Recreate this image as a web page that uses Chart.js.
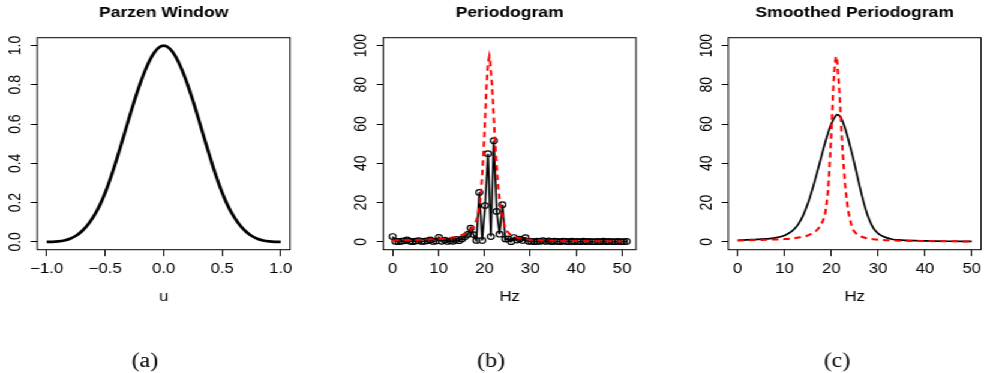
<!DOCTYPE html>
<html>
<head>
<meta charset="utf-8">
<script src="https://cdn.jsdelivr.net/npm/chart.js@4/dist/chart.umd.min.js"></script>
<style>
  html, body { margin: 0; padding: 0; background: #fff; overflow: hidden; }
  /* the reference figure is a little wider than tall, text included */
  #wrap { position: relative; width: 820px; height: 373px; transform: scaleX(1.2); transform-origin: 0 0; }
  #wrap canvas { position: absolute; left: 0; top: 0; }
</style>
</head>
<body>
<div id="wrap">
  <canvas id="parzen" width="820" height="373"></canvas>
  <canvas id="pgram" width="820" height="373"></canvas>
  <canvas id="smooth" width="820" height="373"></canvas>
</div>
<script>
// (a) Parzen window
const uValues = [-1.00, -0.95, -0.90, -0.85, -0.80, -0.75, -0.70, -0.65, -0.60, -0.55, -0.50,
  -0.45, -0.40, -0.35, -0.30, -0.25, -0.20, -0.15, -0.10, -0.05, 0.00,
  0.05, 0.10, 0.15, 0.20, 0.25, 0.30, 0.35, 0.40, 0.45, 0.50,
  0.55, 0.60, 0.65, 0.70, 0.75, 0.80, 0.85, 0.90, 0.95, 1.00];
const parzenWeights = [0.000, 0.000, 0.002, 0.007, 0.016, 0.031, 0.054, 0.086, 0.128, 0.182, 0.250,
  0.332, 0.424, 0.522, 0.622, 0.719, 0.808, 0.885, 0.946, 0.986, 1.000,
  0.986, 0.946, 0.885, 0.808, 0.719, 0.622, 0.522, 0.424, 0.332, 0.250,
  0.182, 0.128, 0.086, 0.054, 0.031, 0.016, 0.007, 0.002, 0.000, 0.000];
const uTicks = [-1, -0.5, 0, 0.5, 1];
const uTickLabels = ['\u22121.0', '\u22120.5', '0.0', '0.5', '1.0'];
const weightTicks = [0, 0.2, 0.4, 0.6, 0.8, 1];
const weightTickLabels = ['0.0', '0.2', '0.4', '0.6', '0.8', '1.0'];

// (b) raw periodogram
const pgramHz = [0.00, 0.63, 1.26, 1.89, 2.52, 3.15, 3.78, 4.41, 5.04, 5.67,
  6.30, 6.93, 7.56, 8.19, 8.81, 9.44, 10.07, 10.70, 11.33, 11.96,
  12.59, 13.22, 13.85, 14.48, 15.11, 15.74, 16.37, 17.00, 17.63, 18.26,
  18.89, 19.52, 20.15, 20.78, 21.41, 22.04, 22.67, 23.30, 23.93, 24.56,
  25.19, 25.81, 26.44, 27.07, 27.70, 28.33, 28.96, 29.59, 30.22, 30.85,
  31.48, 32.11, 32.74, 33.37, 34.00, 34.63, 35.26, 35.89, 36.52, 37.15,
  37.78, 38.41, 39.04, 39.67, 40.30, 40.93, 41.56, 42.19, 42.81, 43.44,
  44.07, 44.70, 45.33, 45.96, 46.59, 47.22, 47.85, 48.48, 49.11, 49.74,
  50.37, 51.00];
const pgramPower = [2.7, 0.2, 0.1, 0.3, 0.5, 1.0, 0.3, 0.1, 0.4, 0.6,
  0.2, 0.3, 0.5, 1.0, 0.2, 0.4, 2.3, 0.3, 0.9, 0.2,
  0.5, 0.3, 1.2, 0.6, 1.5, 2.6, 3.8, 7.0, 3.7, 0.7,
  25.2, 0.7, 18.5, 44.9, 2.7, 51.5, 15.5, 3.9, 18.9, 1.4,
  1.5, 0.1, 2.2, 0.9, 1.4, 0.7, 2.1, 0.3, 0.2, 0.1,
  0.3, 0.2, 0.6, 0.2, 0.5, 0.1, 0.3, 0.2, 0.1, 0.4,
  0.2, 0.1, 0.3, 0.1, 0.2, 0.1, 0.3, 0.1, 0.2, 0.1,
  0.1, 0.2, 0.1, 0.3, 0.1, 0.2, 0.1, 0.1, 0.2, 0.1,
  0.1, 0.2];

// true spectrum, red dashed in (b) and (c)
const trueHz = [0, 4, 8, 10, 12, 13, 14, 14.7, 15.5, 16.3,
  17, 17.5, 18, 18.3, 18.7, 19, 19.3, 19.6, 19.9, 20.2,
  20.45, 20.7, 20.9, 21.07, 21.25, 21.45, 21.65, 21.85, 22.05, 22.3,
  22.5, 22.7, 22.9, 23.1, 23.35, 23.6, 24.1, 24.7, 25.5, 26.5,
  27.6, 29, 31, 33.2, 36, 40, 45, 50];
const truePower = [0.7, 0.9, 1.2, 1.4, 1.8, 2.2, 2.6, 3.0, 3.8, 4.8,
  6.1, 7.6, 9.6, 11.2, 14.5, 19.5, 26, 37, 50, 65,
  79, 88, 92.5, 94.5, 92, 86, 80, 72, 63, 52,
  44, 37, 31, 26, 21, 16.5, 10.5, 6.1, 3.9, 2.6,
  1.8, 1.3, 0.9, 0.7, 0.5, 0.4, 0.3, 0.2];

// (c) smoothed periodogram
const smoothHz = [0, 3, 6, 8, 10, 11, 12, 13, 14, 15, 16, 17, 18, 19, 20, 21, 21.3,
  22, 23, 24, 25, 26, 27, 28, 29, 30, 31, 33, 35, 40, 45, 50];
const smoothPower = [0.8, 1.1, 1.5, 2.0, 3.2, 4.5, 6.3, 9.2, 13.5, 19.5, 27, 35.5, 44.5, 53, 60, 64.3, 64.8,
  63.5, 57.5, 49, 39.5, 29, 19.5, 12, 7, 4.3, 2.8, 1.3, 0.9, 0.5, 0.3, 0.2];

const hzTicks = [0, 10, 20, 30, 40, 50];
const hzTickLabels = ['0', '10', '20', '30', '40', '50'];
const powerTicks = [0, 20, 40, 60, 80, 100];
const powerTickLabels = ['0', '20', '40', '60', '80', '100'];

Chart.defaults.font.family = "'Liberation Sans', Arial, sans-serif";
Chart.defaults.font.size = 14;
Chart.defaults.color = '#000';

const toPoints = (xs, ys) => xs.map((x, i) => ({ x, y: ys[i] }));

// box around the plot, bold title, figure caption underneath
const framePlugin = {
  id: 'frame',
  afterDraw(chart, args, opts) {
    const { ctx, chartArea: a } = chart;
    ctx.save();
    ctx.strokeStyle = '#000';
    ctx.lineWidth = 1;
    ctx.strokeRect(a.left, a.top, a.right - a.left, a.bottom - a.top);
    ctx.fillStyle = '#000';
    ctx.textAlign = 'center';
    ctx.textBaseline = 'alphabetic';
    ctx.font = "bold 14.6px 'Liberation Sans', Arial, sans-serif";
    ctx.fillText(opts.title, (a.left + a.right) / 2, 16.7);
    ctx.font = "20px 'Liberation Serif', 'Times New Roman', serif";
    ctx.fillText(opts.caption, opts.captionX, 366.5);
    ctx.restore();
  },
};

function xScale(min, max, ticks, labels, title) {
  return {
    type: 'linear',
    min,
    max,
    afterBuildTicks: s => { s.ticks = ticks.map(value => ({ value })); },
    afterFit: s => { s.height = 56; s.paddingLeft = 0; s.paddingRight = 0; },
    grid: { drawOnChartArea: false, tickLength: 6.5, color: '#000', lineWidth: 1 },
    border: { display: false },
    ticks: { autoSkip: false, minRotation: 0, maxRotation: 0, padding: 4.1, callback: (v, i) => labels[i] },
    title: { display: true, text: title, padding: { top: 0, bottom: 0.45 } },
  };
}

function yScale(min, max, ticks, labels, pad) {
  return {
    type: 'linear',
    min,
    max,
    afterBuildTicks: s => { s.ticks = ticks.map(value => ({ value })); },
    afterFit: s => { s.width = 25; s.paddingTop = 0; s.paddingBottom = 0; },
    grid: { drawOnChartArea: false, tickLength: 5.5, color: '#000', lineWidth: 1 },
    border: { display: false },
    ticks: { autoSkip: false, minRotation: 90, maxRotation: 90, crossAlign: 'center', padding: pad, callback: (v, i) => labels[i] },
  };
}

function options(left, right, x, y, frame) {
  return {
    responsive: false,
    animation: false,
    devicePixelRatio: 1,
    events: [],
    layout: { padding: { left, right, top: 37.7, bottom: 67.3 } },
    scales: { x, y },
    plugins: { legend: { display: false }, tooltip: { enabled: false }, frame },
  };
}

new Chart(document.getElementById('parzen'), {
  type: 'line',
  data: {
    datasets: [{
      data: toPoints(uValues, parzenWeights),
      borderColor: '#000',
      borderWidth: 2.7,
      pointRadius: 0,
      cubicInterpolationMode: 'monotone',
    }],
  },
  options: options(6.1, 578.3,
    xScale(-1.08, 1.08, uTicks, uTickLabels, 'u'),
    yScale(-0.04, 1.04, weightTicks, weightTickLabels, 2.6),
    { title: 'Parzen Window', caption: '(a)', captionX: 120.8 }),
  plugins: [framePlugin],
});

new Chart(document.getElementById('pgram'), {
  type: 'line',
  data: {
    datasets: [
      {
        data: toPoints(trueHz, truePower),
        borderColor: '#ff0000',
        borderWidth: 2,
        borderDash: [5.5, 4],
        pointRadius: 0,
        order: 0,
      },
      {
        data: toPoints(pgramHz, pgramPower),
        borderColor: '#000',
        borderWidth: 1.6,
        pointRadius: 2.8,
        pointBorderWidth: 1.2,
        pointBorderColor: '#000',
        pointBackgroundColor: 'rgba(0,0,0,0)',
        order: 1,
      },
    ],
  },
  options: options(294.4, 290,
    xScale(-2.04, 53.04, hzTicks, hzTickLabels, 'Hz'),
    yScale(-4, 104, powerTicks, powerTickLabels, 0.6),
    { title: 'Periodogram', caption: '(b)', captionX: 409.2 }),
  plugins: [framePlugin],
});

new Chart(document.getElementById('smooth'), {
  type: 'line',
  data: {
    datasets: [
      {
        data: toPoints(trueHz, truePower),
        borderColor: '#ff0000',
        borderWidth: 2,
        borderDash: [5.5, 4],
        pointRadius: 0,
        cubicInterpolationMode: 'monotone',
        order: 0,
      },
      {
        data: toPoints(smoothHz, smoothPower),
        borderColor: '#000',
        borderWidth: 1.7,
        pointRadius: 0,
        cubicInterpolationMode: 'monotone',
        order: 1,
      },
    ],
  },
  options: options(581.9, 2.5,
    xScale(-2, 52, hzTicks, hzTickLabels, 'Hz'),
    yScale(-4, 104, powerTicks, powerTickLabels, 0.6),
    { title: 'Smoothed Periodogram', caption: '(c)', captionX: 697.5 }),
  plugins: [framePlugin],
});
</script>
</body>
</html>
